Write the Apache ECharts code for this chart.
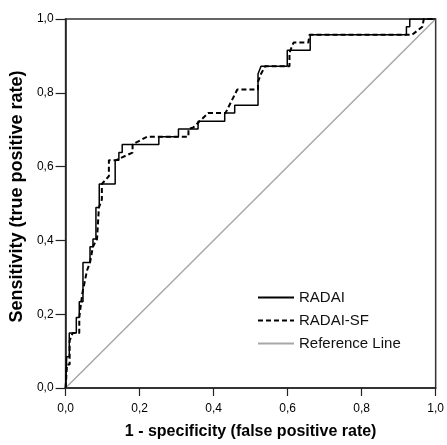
<!DOCTYPE html>
<html>
<head>
<meta charset="utf-8">
<script src="https://cdn.jsdelivr.net/npm/echarts@6/dist/echarts.min.js"></script>
<style>
html,body{margin:0;padding:0;background:#fff;}
#chart{width:447px;height:445px;}
</style>
</head>
<body>
<div id="chart"></div>
<script>
// RADAI ROC curve (1 - specificity, sensitivity)
const radaiFpr = [0, 0.003, 0.003, 0.010, 0.010, 0.029, 0.029, 0.037, 0.037, 0.047, 0.047, 0.066, 0.066, 0.074, 0.074, 0.082, 0.082, 0.091, 0.091, 0.134, 0.134, 0.144, 0.144, 0.153, 0.153, 0.252, 0.252, 0.305, 0.305, 0.358, 0.358, 0.430, 0.430, 0.457, 0.457, 0.520, 0.520, 0.528, 0.599, 0.599, 0.661, 0.661, 0.921, 0.921, 0.930, 0.930, 1.0];
const radaiTpr = [0, 0, 0.085, 0.085, 0.149, 0.149, 0.191, 0.191, 0.234, 0.234, 0.340, 0.340, 0.383, 0.383, 0.404, 0.404, 0.489, 0.489, 0.553, 0.553, 0.617, 0.617, 0.638, 0.638, 0.660, 0.660, 0.681, 0.681, 0.702, 0.702, 0.723, 0.723, 0.745, 0.745, 0.766, 0.766, 0.851, 0.872, 0.872, 0.915, 0.915, 0.957, 0.957, 0.979, 0.979, 1.0, 1.0];
// RADAI-SF ROC curve
const sfFpr = [0, 0.004, 0.004, 0.011, 0.011, 0.019, 0.037, 0.037, 0.045, 0.058, 0.066, 0.074, 0.085, 0.090, 0.098, 0.098, 0.117, 0.117, 0.135, 0.181, 0.181, 0.220, 0.332, 0.332, 0.345, 0.385, 0.432, 0.464, 0.520, 0.520, 0.528, 0.539, 0.605, 0.605, 0.616, 0.656, 0.659, 0.936, 0.964, 0.968, 1.0];
const sfTpr = [0, 0, 0.064, 0.064, 0.128, 0.149, 0.149, 0.191, 0.255, 0.319, 0.340, 0.383, 0.404, 0.489, 0.511, 0.553, 0.574, 0.617, 0.617, 0.638, 0.660, 0.681, 0.681, 0.702, 0.706, 0.745, 0.745, 0.809, 0.809, 0.830, 0.851, 0.872, 0.872, 0.909, 0.936, 0.936, 0.957, 0.957, 0.979, 1.0, 1.0];
// Reference line
const refX = [0, 1];
const refY = [0, 1];
const seriesNames = ['RADAI', 'RADAI-SF', 'Reference Line'];

function pairs(xs, ys) { return xs.map((x, i) => [x, ys[i]]); }
const fmt = v => v.toFixed(1).replace('.', ',');
const FONT = 'Liberation Sans, Arial, sans-serif';

const chart = echarts.init(document.getElementById('chart'), null, {renderer: 'canvas'});
function axis(opts) {
  return Object.assign({
    type: 'value', min: 0, max: 1, interval: 0.2,
    axisLine: {show: true, onZero: false, lineStyle: {color: '#222', width: 1.5}},
    splitLine: {show: false},
    nameLocation: 'middle'
  }, opts);
}
chart.setOption({
  backgroundColor: '#fff',
  animation: false,
  grid: {left: 60, right: 10, top: 19, bottom: 49, show: true, borderColor: '#333', borderWidth: 1.5, backgroundColor: 'transparent'},
  xAxis: axis({
    name: '1 - specificity (false positive rate)', nameGap: 36,
    nameTextStyle: {color: '#000', fontSize: 16, fontWeight: 'bold', fontFamily: FONT},
    axisTick: {show: true, length: 8, lineStyle: {color: '#222', width: 1.2}},
    axisLabel: {color: '#000', fontSize: 12, fontFamily: FONT, formatter: fmt, margin: 15}
  }),
  yAxis: axis({
    name: 'Sensitivity (true positive rate)', nameGap: 31,
    nameTextStyle: {color: '#000', fontSize: 18, fontWeight: 'bold', fontFamily: FONT, padding: [0, 0, 0, 14]},
    axisTick: {show: true, length: 10, lineStyle: {color: '#222', width: 1.2}},
    axisLabel: {color: '#000', fontSize: 12, fontFamily: FONT, formatter: fmt, margin: 12}
  }),
  legend: {
    orient: 'vertical', left: 257, top: 290, padding: 0, itemWidth: 36, itemHeight: 14, itemGap: 8,
    itemStyle: {opacity: 0},
    textStyle: {color: '#111', fontSize: 15, fontFamily: FONT},
    data: seriesNames
  },
  series: [
    {name: seriesNames[0], type: 'line', data: pairs(radaiFpr, radaiTpr), symbol: 'none', lineStyle: {color: '#000', width: 1.5}, itemStyle: {color: '#000'}, z: 3},
    {name: seriesNames[1], type: 'line', data: pairs(sfFpr, sfTpr), symbol: 'none', lineStyle: {color: '#000', width: 2, type: [5, 3]}, itemStyle: {color: '#000'}, z: 4},
    {name: seriesNames[2], type: 'line', data: pairs(refX, refY), symbol: 'none', lineStyle: {color: '#a8a8a8', width: 1.5}, itemStyle: {color: '#a8a8a8'}, z: 2}
  ]
});
</script>
</body>
</html>
